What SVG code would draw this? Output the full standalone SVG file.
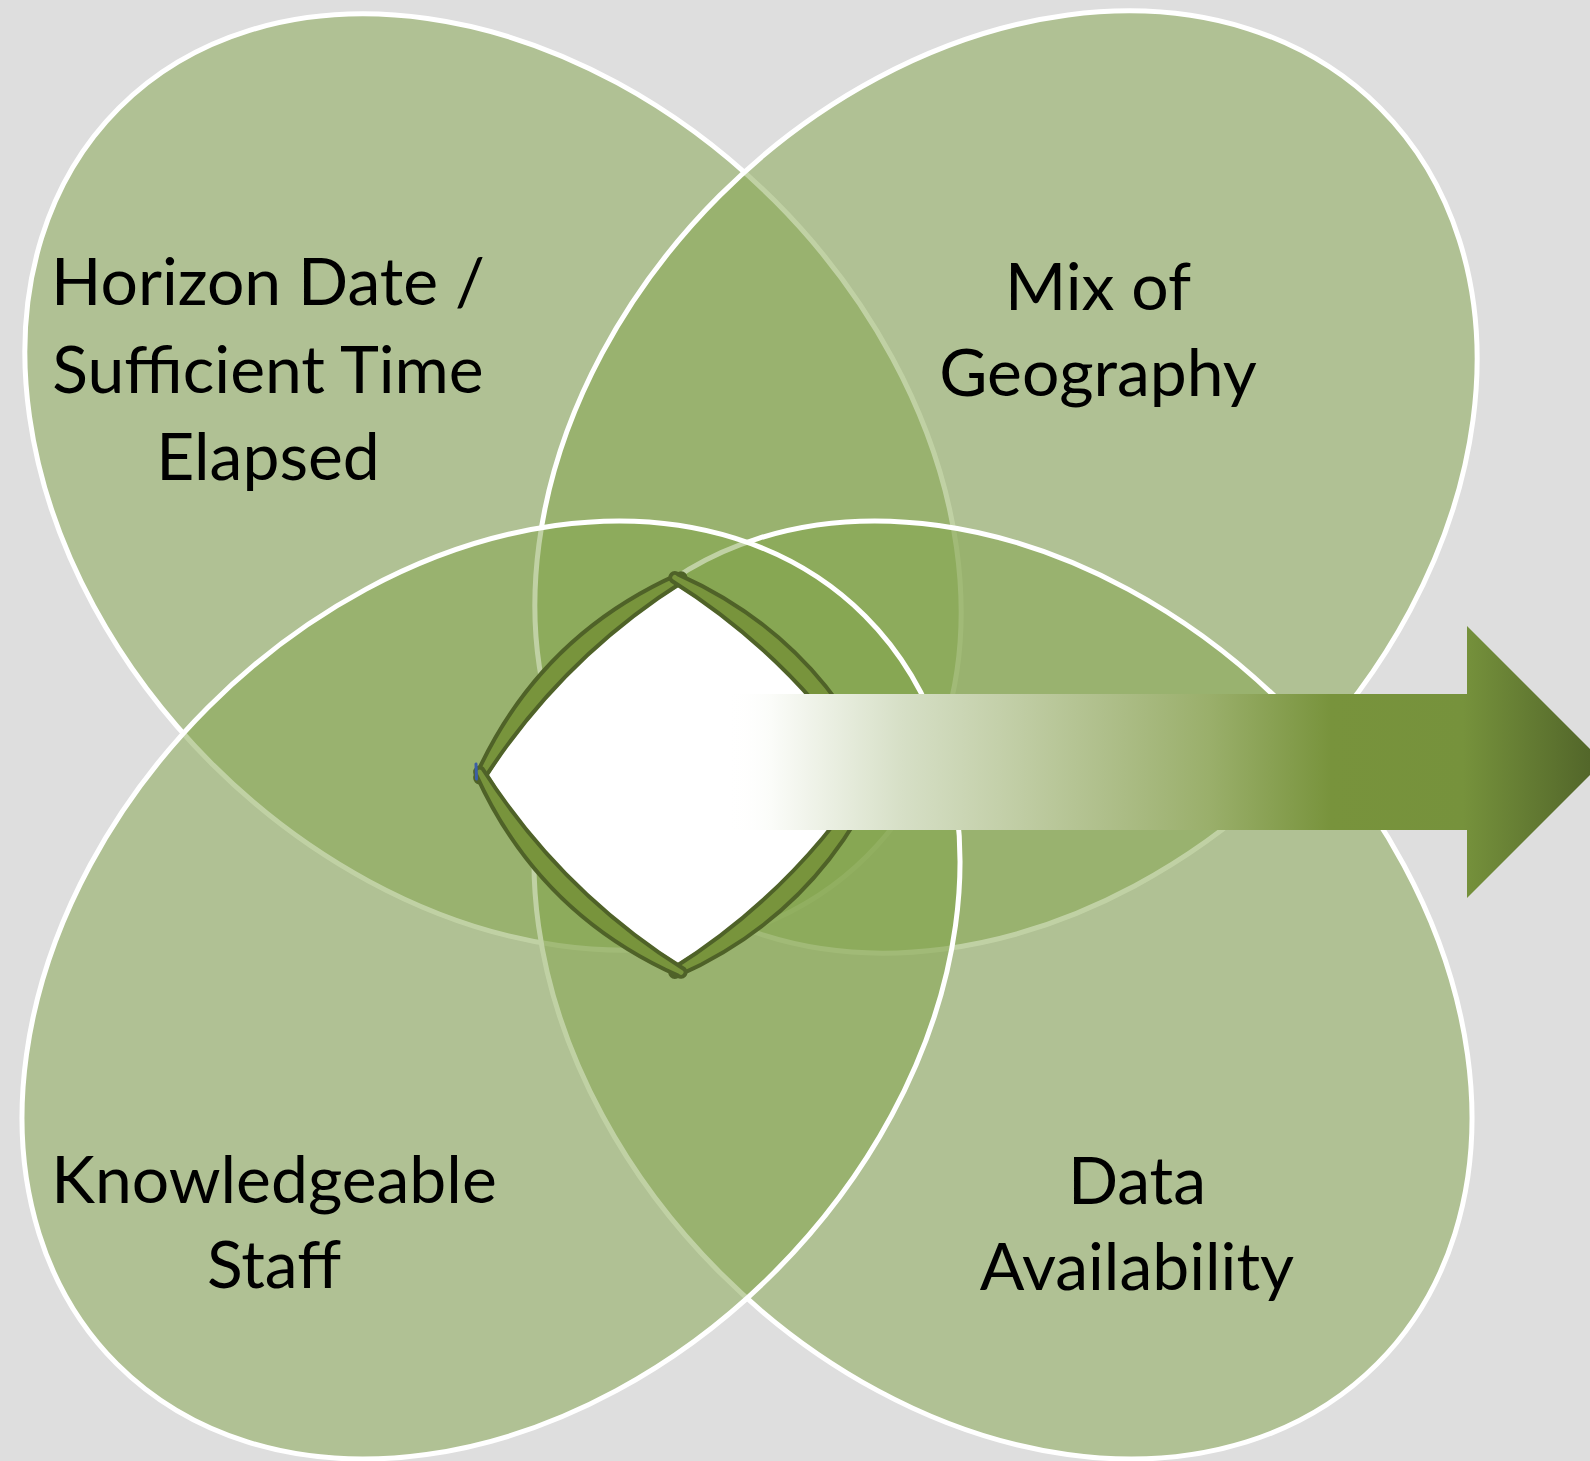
<svg xmlns="http://www.w3.org/2000/svg" width="1590" height="1461" viewBox="0 0 1590 1461">
  <defs>
    <style>
      .petal { fill: #81a349; fill-opacity: 0.5; stroke: #ffffff; stroke-width: 5; }
      .label { font-family: Lato, "Open Sans", "Liberation Sans", sans-serif; font-size: 66px; fill: #000000; text-anchor: middle; }
      .rim { fill: #78943c; stroke: #4f6228; stroke-width: 4; stroke-linejoin: round; }
      .core { fill: #ffffff; }
    </style>
    <linearGradient id="arrowFade" gradientUnits="userSpaceOnUse" x1="727" y1="0" x2="1603" y2="0">
      <stop offset="0" stop-color="#ffffff" stop-opacity="0"/>
      <stop offset="0.05" stop-color="#fbfcf9" stop-opacity="1"/>
      <stop offset="0.2" stop-color="#d6dfc6"/>
      <stop offset="0.31" stop-color="#c4d0aa"/>
      <stop offset="0.43" stop-color="#afbf8b"/>
      <stop offset="0.55" stop-color="#9aaf6b"/>
      <stop offset="0.69" stop-color="#78933c"/>
      <stop offset="0.84" stop-color="#76923c"/>
      <stop offset="1" stop-color="#4f6228"/>
    </linearGradient>
  </defs>

  <!-- page -->
  <rect x="0" y="0" width="1590" height="1461" fill="#dedede"/>

  <!-- four overlapping petals, back to front -->
  <g id="horizon-date">
    <ellipse class="petal" cx="0" cy="0" rx="529" ry="398" transform="translate(493 482) rotate(45)"/>
    <text class="label" x="268" y="305">Horizon Date /</text>
    <text class="label" x="268" y="393">Sufficient Time</text>
    <text class="label" x="268" y="480">Elapsed</text>
  </g>

  <g id="mix-of-geography">
    <ellipse class="petal" cx="0" cy="0" rx="529" ry="405" transform="translate(1006 482) rotate(-45)"/>
    <text class="label" x="1098" y="310">Mix of</text>
    <text class="label" x="1098" y="396">Geography</text>
  </g>

  <g id="data-availability">
    <ellipse class="petal" cx="0" cy="0" rx="529" ry="400" transform="translate(1003 990) rotate(45)"/>
    <text class="label" x="1137" y="1204">Data</text>
    <text class="label" x="1137" y="1290">Availability</text>
  </g>

  <g id="knowledgeable-staff">
    <ellipse class="petal" cx="0" cy="0" rx="529" ry="400" transform="translate(491 990) rotate(-45)"/>
    <text class="label" x="274" y="1203">Knowledgeable</text>
    <text class="label" x="274" y="1288">Staff</text>
  </g>

  <!-- central white diamond framed by four crescent rims -->
  <g id="center">
    <path class="core" d="M489,775 Q561,658 678,587 Q795,658 867,775 Q795,892 678,963 Q561,892 489,775 Z"/>
    <path class="rim" d="M482.6,781.3 Q560.9,658.3 684.4,580.7 A4.5 4.5 0 0 0 678.1,574.3 Q539.1,636.3 476.3,774.9 A4.5 4.5 0 0 0 482.6,781.3 Z"/>
    <path class="rim" d="M671.6,580.7 Q795.1,658.3 873.4,781.3 A4.5 4.5 0 0 0 879.8,774.9 Q816.9,636.3 678,574.3 A4.5 4.5 0 0 0 671.6,580.7 Z"/>
    <path class="rim" d="M873.4,768.7 Q795.1,891.7 671.6,969.3 A4.5 4.5 0 0 0 678,975.7 Q816.9,913.7 879.8,775.1 A4.5 4.5 0 0 0 873.4,768.7 Z"/>
    <path class="rim" d="M684.4,969.3 Q560.9,891.7 482.6,768.7 A4.5 4.5 0 0 0 476.3,775.1 Q539.1,913.7 678.1,975.7 A4.5 4.5 0 0 0 684.4,969.3 Z"/>
    <path d="M476,764 L476.5,779" fill="none" stroke="#3b5ea6" stroke-width="3" stroke-linecap="round"/>
  </g>

  <!-- outgoing arrow -->
  <g id="connectors">
    <path d="M727,694 H1467 V626 L1603,762 L1467,898 V830 H727 Z" fill="url(#arrowFade)"/>
  </g>
</svg>
